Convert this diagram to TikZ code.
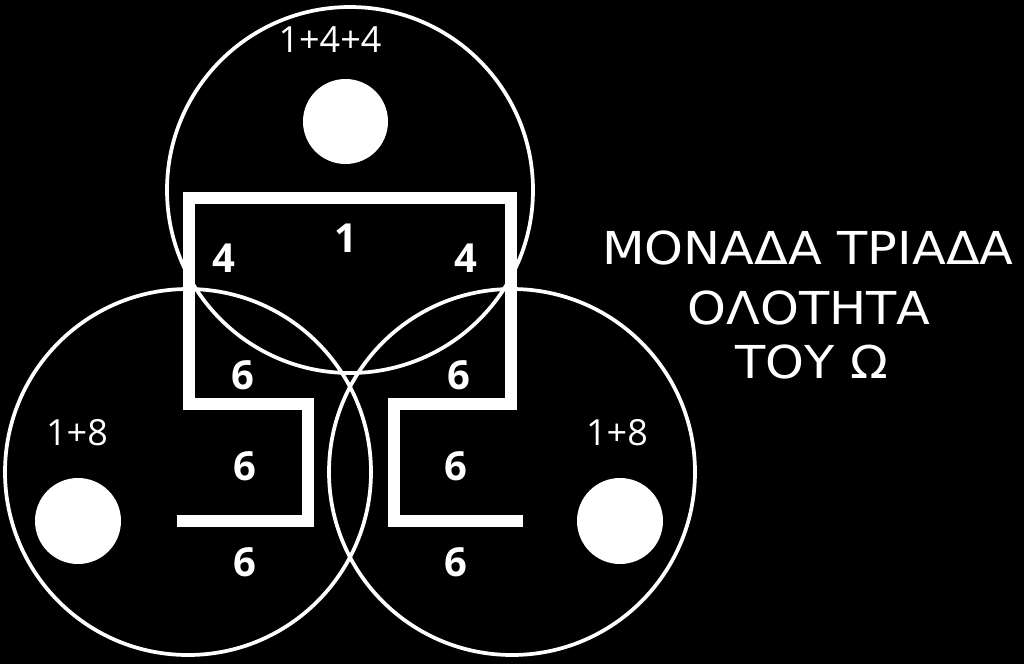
\documentclass[tikz,border=0pt]{standalone}
\usepackage{fontspec}
\setmainfont{Open Sans}
\newfontfamily\greekfont{DejaVu Sans}
\begin{document}
\begin{tikzpicture}[x=0.75pt,y=-0.75pt,
  ring/.style={draw=white,line width=2.8pt},
  dot/.style={fill=white},
  omega/.style={draw=white,line width=9pt,line join=miter},
  num/.style={text=white,font=\fontsize{30}{33}\selectfont\bfseries,inner sep=0pt},
  sum/.style={text=white,font=\fontsize{27}{30}\selectfont,inner sep=0pt},
  title/.style={text=white,font=\greekfont\fontsize{34}{38}\selectfont,inner sep=0pt,xscale=1.09}]
\useasboundingbox (0,0) rectangle (1024,664);
\fill[black] (0,0) rectangle (1024,664);
% circles
\node[ring,circle,minimum size=366*0.75pt,inner sep=0pt] (ctop) at (350,190) {};
\node[ring,circle,minimum size=366*0.75pt,inner sep=0pt] (cleft) at (188,472) {};
\node[ring,circle,minimum size=366*0.75pt,inner sep=0pt] (cright) at (512,472) {};
% dots
\fill[dot] (345.5,121.5) circle[radius=42.5];
\fill[dot] (78,521) circle[radius=43];
\fill[dot] (620,521) circle[radius=43];
% omega shape
\coordinate (o1) at (177,521);
\coordinate (o2) at (308,521);
\coordinate (o3) at (308,404);
\coordinate (o4) at (189,404);
\coordinate (o5) at (189,198);
\coordinate (o6) at (511,198);
\coordinate (o7) at (511,404);
\coordinate (o8) at (394,404);
\coordinate (o9) at (394,521);
\coordinate (o10) at (523,521);
\draw[omega] (o1) -- (o2) -- (o3) -- (o4) -- (o5) -- (o6) -- (o7) -- (o8) -- (o9) -- (o10);
% labels
\node[sum] (s1) at (330,40) {1+4+4};
\node[sum] (s2) at (77,433) {1+8};
\node[sum] (s3) at (617,433) {1+8};
\node[num] (n1) at (346,238) {1};
\node[num] (n2) at (224,258) {4};
\node[num] (n3) at (466,258) {4};
\node[num] (n4) at (243,375) {6};
\node[num] (n5) at (459,375) {6};
\node[num] (n6) at (245,466) {6};
\node[num] (n7) at (456,466) {6};
\node[num] (n8) at (245,562) {6};
\node[num] (n9) at (456,562) {6};
% title
\node[title] (t1) at (808,248) {ΜΟΝΑΔΑ ΤΡΙΑΔΑ};
\node[title] (t2) at (809,308) {ΟΛΟΤΗΤΑ};
\node[title] (t3) at (812,362) {ΤΟΥ Ω};
\end{tikzpicture}
\end{document}
